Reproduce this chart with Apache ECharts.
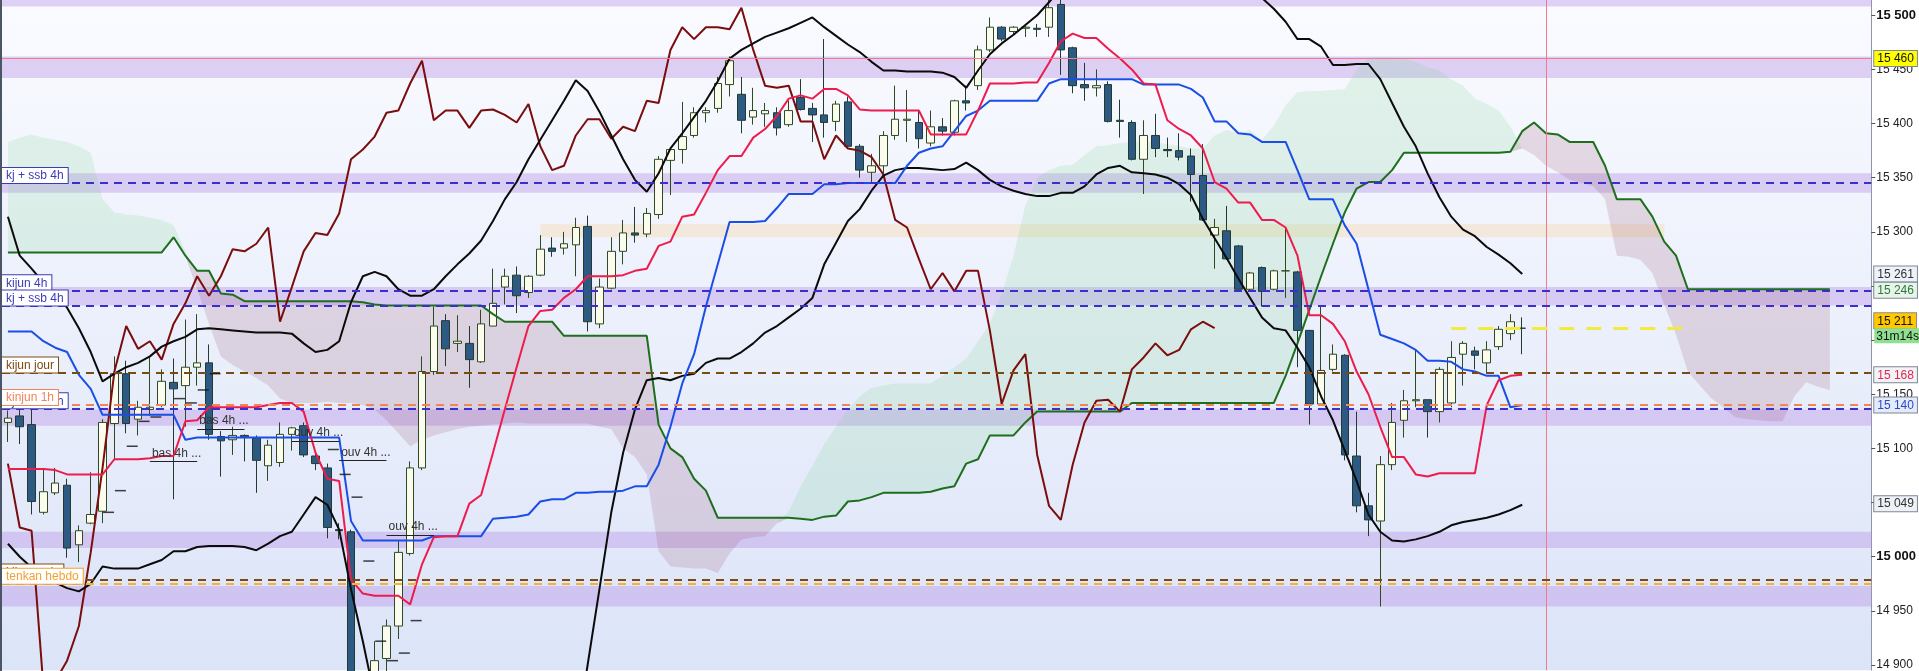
<!DOCTYPE html>
<html><head><meta charset="utf-8">
<script src="https://cdn.jsdelivr.net/npm/echarts@6/dist/echarts.min.js"></script>
<style>html,body{margin:0;padding:0;background:#fff;}#c{width:1919px;height:671px;}</style>
</head><body><div id="c"></div>
<script>
// ---- DATA ----
// candles: [open, close, low, high]
const candles = [
[15124,15128,15106,15135],[15130,15120,15104,15136],[15122,15051,15039,15136],[15041,15060,15039,15082],[15059,15068,15057,15082],
[15066,15008,14999,15072],[15011,15024,14995,15029],[15031,15039,15030,15078],[15042,15124,15031,15127],[15123,15169,15090,15185],
[15169,15123,15114,15181],[15127,15138,15112,15144],[15136,15138,15130,15185],[15140,15162,15138,15173],[15161,15155,15053,15183],
[15158,15175,15120,15219],[15175,15179,15158,15224],[15179,15113,15108,15196],[15111,15107,15074,15116],[15108,15112,15094,15120],
[15112,15110,15088,15113],[15110,15089,15059,15112],[15084,15103,15070,15108],[15087,15113,15083,15124],[15113,15119,15098,15120],
[15121,15094,15092,15124],[15093,15086,15080,15096],[15082,15027,15017,15086],[15025,15024,15016,15031],[15023,14880,14860,15025],
[14875,14885,14860,14893],[14890,14904,14880,14922],[14906,14936,14885,14942],[14936,15004,14924,15015],[15003,15082,15001,15088],
[15082,15171,15080,15185],[15171,15213,15168,15231],[15218,15192,15176,15224],[15197,15199,15189,15223],[15197,15182,15156,15213],
[15180,15215,15179,15228],[15213,15234,15213,15266],[15249,15259,15233,15266],[15260,15241,15225,15268],[15244,15259,15239,15260],
[15260,15284,15259,15297],[15285,15282,15277,15295],[15285,15289,15279,15300],[15288,15304,15259,15313],[15305,15217,15208,15315],
[15215,15249,15211,15257],[15248,15282,15247,15295],[15282,15299,15270,15311],[15299,15297,15290,15323],[15298,15317,15295,15322],
[15316,15367,15312,15370],[15366,15376,15334,15377],[15376,15388,15363,15420],[15389,15410,15387,15415],[15410,15412,15401,15415],
[15414,15437,15410,15443],[15436,15458,15425,15462],[15427,15403,15391,15443],[15406,15412,15399,15433],[15409,15412,15397,15419],
[15410,15396,15389,15415],[15399,15412,15397,15421],[15424,15413,15412,15441],[15414,15408,15383,15419],[15408,15401,15387,15478],
[15402,15418,15393,15421],[15420,15379,15377,15425],[15379,15357,15350,15381],[15355,15361,15346,15372],[15361,15389,15354,15393],
[15389,15404,15385,15435],[15403,15404,15383,15431],[15401,15386,15377,15412],[15382,15397,15379,15412],[15397,15393,15389,15405],
[15392,15421,15389,15422],[15421,15419,15412,15435],[15435,15468,15431,15472],[15468,15489,15466,15498],[15489,15478,15476,15490],
[15485,15489,15482,15490],[15488,15489,15480,15490],[15488,15487,15480,15492],[15489,15507,15480,15516],[15510,15468,15445,15520],
[15470,15435,15428,15471],[15436,15433,15421,15456],[15433,15435,15425,15450],[15436,15402,15401,15439],[15403,15402,15387,15422],
[15401,15367,15366,15403],[15367,15389,15335,15403],[15389,15377,15369,15409],[15376,15375,15369,15387],[15375,15369,15366,15391],
[15370,15353,15328,15377],[15352,15311,15310,15381],[15297,15304,15266,15312],[15301,15275,15274,15324],[15287,15247,15245,15288],
[15247,15262,15246,15263],[15267,15245,15231,15268],[15247,15264,15246,15265],[15264,15264,15239,15304],[15263,15209,15175,15264],
[15209,15141,15122,15209],[15141,15172,15140,15231],[15173,15187,15171,15196],[15186,15094,15089,15187],[15093,15047,15041,15134],
[15047,15034,15019,15059],[15033,15085,14954,15093],[15085,15124,15080,15142],[15126,15144,15110,15154],[15144,15145,15138,15191],
[15145,15134,15110,15145],[15134,15173,15124,15175],[15142,15184,15138,15199],[15187,15197,15158,15199],[15190,15186,15173,15194],
[15179,15191,15169,15199],[15194,15210,15191,15213],[15206,15217,15200,15224],[15211,15211,15187,15221]
];
const tenkan = [15081,15081,15081,15081,15080,15076,15076,15076,15076,15090,
15090,15090,15091,15093,15093,15125,15126,15138,15138,15138,
15138,15138,15140,15142,15142,15134,15096,15072,15070,14979,
14966,14964,14964,14964,14956,14993,15018,15019,15019,15049,
15057,15096,15136,15175,15213,15227,15228,15239,15247,15259,
15259,15259,15260,15264,15266,15287,15291,15314,15316,15336,
15357,15370,15370,15387,15395,15407,15423,15426,15423,15432,
15432,15426,15413,15412,15412,15412,15412,15412,15390,15390,
15390,15390,15412,15437,15437,15437,15438,15438,15456,15476,
15483,15479,15479,15469,15460,15450,15437,15436,15403,15395,
15389,15377,15346,15340,15327,15327,15311,15311,15304,15278,
15223,15223,15215,15199,15171,15150,15120,15092,15092,15076,
15074,15077,15077,15077,15077,15140,15163,15167,15168];
const kijun = [15208,15208,15208,15199,15193,15189,15168,15155,15131,15131,
15131,15131,15131,15131,15131,15108,15110,15110,15110,15110,
15110,15110,15110,15110,15110,15110,15110,15110,15110,15033,
15015,15015,15015,15015,15015,15015,15019,15019,15019,15019,
15019,15035,15036,15037,15039,15051,15053,15053,15059,15059,
15060,15060,15061,15065,15065,15085,15120,15160,15187,15231,
15270,15309,15309,15309,15310,15322,15335,15335,15335,15344,
15344,15345,15345,15345,15345,15345,15361,15373,15377,15379,
15393,15407,15412,15421,15421,15421,15421,15421,15437,15441,
15441,15441,15441,15441,15441,15441,15436,15436,15436,15436,
15432,15424,15402,15402,15391,15390,15383,15383,15383,15357,
15330,15330,15330,15306,15289,15247,15205,15201,15197,15191,
15181,15181,15180,15173,15171,15167,15167,15138,15140];
const chikou = [15086,15027,15024,14880,14885,14904,14936,15004,15082,15171,
15213,15192,15199,15182,15215,15234,15259,15241,15259,15284,
15282,15289,15304,15217,15249,15282,15299,15297,15317,15367,
15376,15388,15410,15412,15437,15458,15403,15412,15412,15396,
15412,15413,15408,15401,15418,15379,15357,15361,15389,15404,
15404,15386,15397,15393,15421,15419,15468,15489,15478,15489,
15489,15487,15507,15468,15435,15433,15435,15402,15402,15367,
15389,15377,15375,15369,15353,15311,15304,15275,15247,15262,
15245,15264,15264,15209,15141,15172,15187,15094,15047,15034,
15085,15124,15144,15145,15134,15173,15184,15197,15186,15191,
15210,15217,15211];
const ssb = [15281,15281,15281,15281,15281,15281,15281,15281,15281,15281,
15281,15281,15281,15281,15295,15278,15264,15264,15243,15242,
15236,15236,15236,15236,15236,15236,15236,15236,15236,15236,
15235,15233,15232,15232,15232,15232,15232,15232,15232,15232,
15232,15224,15217,15217,15217,15217,15217,15204,15204,15204,
15204,15204,15204,15204,15204,15122,15100,15092,15072,15061,
15036,15036,15036,15036,15036,15036,15036,15035,15034,15037,
15038,15051,15052,15055,15059,15059,15059,15059,15060,15063,
15065,15086,15090,15112,15112,15112,15124,15134,15134,15134,
15134,15134,15134,15134,15134,15142,15142,15142,15142,15142,
15142,15142,15142,15142,15142,15142,15142,15142,15167,15197,
15228,15259,15289,15318,15340,15346,15346,15357,15373,15373,
15373,15373,15373,15373,15373,15373,15373,15374,15393,15401,
15391,15390,15383,15383,15383,15361,15330,15330,15330,15314,
15291,15278,15247,15247,15247,15247,15247,15247,15247,15247,
15247,15247,15247,15247,15247];
const ssa = [15383,15387,15390,15387,15385,15383,15379,15373,15330,15318,
15316,15315,15313,15311,15306,15282,15247,15215,15185,15177,
15171,15165,15158,15146,15142,15142,15142,15143,15142,15142,
15140,15136,15126,15114,15102,15108,15112,15115,15118,15120,
15121,15122,15123,15124,15123,15123,15123,15123,15123,15123,
15120,15118,15100,15092,15076,15005,14991,14990,14989,14989,
14985,15003,15016,15018,15019,15031,15042,15065,15084,15104,
15120,15136,15148,15156,15158,15160,15160,15160,15160,15167,
15175,15183,15199,15215,15243,15278,15324,15350,15357,15361,
15362,15371,15379,15380,15382,15383,15384,15383,15381,15379,
15377,15377,15389,15394,15391,15394,15385,15398,15417,15429,
15430,15430,15431,15432,15450,15460,15461,15461,15460,15457,
15452,15449,15441,15435,15423,15418,15412,15397,15377,15371,
15361,15355,15348,15345,15342,15330,15278,15277,15274,15262,
15233,15205,15171,15158,15146,15138,15129,15127,15126,15125,
15125,15148,15161,15157,15154];
const bbUpper = [15314,15278,15266,15253,15241,15230,15211,15189,15162,15169,
15175,15179,15185,15194,15199,15203,15210,15211,15210,15209,
15208,15207,15207,15207,15206,15197,15189,15191,15199,15235,
15259,15263,15259,15247,15241,15241,15247,15259,15270,15280,
15292,15310,15330,15346,15367,15385,15403,15421,15440,15430,
15411,15389,15367,15348,15337,15354,15377,15391,15406,15421,
15439,15460,15468,15474,15480,15484,15488,15493,15498,15489,
15481,15473,15466,15457,15449,15449,15448,15448,15448,15447,
15443,15433,15449,15464,15474,15482,15491,15500,15512,15525,
15535,15545,15550,15555,15558,15560,15560,15558,15555,15550,
15545,15540,15535,15530,15525,15520,15516,15506,15494,15478,
15478,15471,15454,15454,15455,15455,15441,15419,15397,15379,
15354,15332,15314,15302,15296,15286,15279,15271,15261];
const bbLower = [15012,15000,14990,14982,14976,14971,14968,14975,14991,14989,
14989,14989,14993,14997,15005,15005,15009,15010,15010,15010,
15009,15006,15012,15019,15023,15039,15055,15048,15025,14970,
14922,14870,14840,14810,14790,14780,14775,14770,14765,14760,
14755,14750,14748,14745,14745,14750,14760,14780,14830,14900,
14970,15041,15096,15136,15163,15165,15163,15167,15169,15179,
15183,15183,15189,15197,15207,15213,15221,15229,15239,15270,
15290,15310,15321,15338,15352,15357,15359,15359,15358,15357,
15358,15364,15357,15348,15342,15338,15335,15333,15333,15336,
15336,15342,15353,15359,15361,15355,15354,15353,15350,15344,
15334,15312,15294,15276,15257,15239,15221,15211,15209,15193,
15175,15148,15126,15098,15070,15039,15023,15015,15014,15016,
15019,15023,15029,15032,15034,15036,15039,15043,15048];
// small 4h open markers: [index, price]
const ticks4h = [[8,15041],[9,15061],[10,15102],[11,15125],[12,15129],[14,15146],[15,15142],[16,15154],[17,15169],
[27,15099],[28,15076],[29,15055],[30,14996],[31,14922],[32,14904],[33,14911],[34,14941]];
// annotations: [text, startIndex, endIndex, price]
const notes = [['bas 4h ...',12,16,15088],['bas 4h ...',16,20,15118],['ouv 4h ...',24,28,15107],['ouv 4h ...',28,32,15089],['ouv 4h ...',32,36,15020]];
// horizontal levels
const levelValues = [15345,15246,15232,15170,15137,15140,14979,14975];
const levelNames  = ['kj + ssb 4h','kijun 4h','kj + ssb 4h','kijun jour','kj + ssb 4h','kinjun 1h','kijun mois','tenkan hebdo'];
const levelKinds  = ['b','b','b','br','b','o','br','y'];
const bands = [[15508,15530],[15442,15462],[15336,15354],[15232,15249],[15121,15136],[15008,15023],[14954,14973]];
const peachBand = [45,140,15295,15307];
const redLineLevel = 15460;
const lastPrice = 15211, timerText = '31m14s';
const priceTags = [15460,15261,15246,15168,15140,15049];
const nowIndex = 130;
const projRange = [122,142];

// ---- CHART ----
const N = 158;
const cats = Array.from({length:N},(_,i)=>String(i));
const fmt = v => { const s = String(Math.round(v)); return s.slice(0,s.length-3)+' '+s.slice(-3); };
const cloudBase = ssa.map((a,i)=>Math.min(a,ssb[i]));
const cloudUp = ssa.map((a,i)=>Math.max(a-ssb[i],0));
const cloudDn = ssa.map((a,i)=>Math.max(ssb[i]-a,0));
const FONT = 'Liberation Sans, Arial, sans-serif';
const kindStyle = {
  b:{line:'#3a2fcc', text:'#3b3bb5'},
  br:{line:'#7a4a12', text:'#7a4a12'},
  o:{line:'#f0845a', text:'#f0845a'},
  y:{line:'#f5b035', text:'#f0a030'}
};
const levelData = levelValues.map((v,i)=>{
  const k = kindStyle[levelKinds[i]];
  return {yAxis:v, lineStyle:{color:k.line, type:[8,6], width:2},
    label:{show:true, position:'insideStartTop', distance:0, formatter:levelNames[i], color:k.text,
      fontFamily:FONT, fontSize:12, backgroundColor:'#fff', borderColor:k.text, borderWidth:1, padding:[2,4,1,4]}};
});
const tagStyle = {
  15460:{bg:'#ffff00', c:'#111'}, 15261:{bg:'#edf1f8', c:'#333'}, 15246:{bg:'#e8f3ea', c:'#2b7a3b'},
  15168:{bg:'#f2f2f7', c:'#e0284a'}, 15140:{bg:'#e3eafa', c:'#2a48c8'}, 15049:{bg:'#eef1f6', c:'#333'}
};
const tagBase = {fontFamily:FONT, fontSize:12, padding:[2,3,1,3], borderColor:'#7d8797', borderWidth:1};
const tagRich = {};
priceTags.forEach((v,i)=>{ tagRich['t'+i] = Object.assign({color:tagStyle[v].c, backgroundColor:tagStyle[v].bg}, tagBase); });
tagRich.p = Object.assign({}, tagBase, {color:'#111', backgroundColor:'#ffc800', borderColor:'#888'});
tagRich.q = {fontFamily:FONT, fontSize:12, padding:[2,2,1,2], color:'#111', backgroundColor:'#8fe08f'};
const tagData = priceTags.map((v,i)=>({yAxis:v, lineStyle:{width:0, color:'rgba(0,0,0,0)'},
  label:{show:true, position:'end', distance:3, opacity:1, formatter:'{t'+i+'|'+fmt(v)+'}', rich:tagRich}}));
tagData.push({yAxis:lastPrice, lineStyle:{width:0, color:'rgba(0,0,0,0)'},
  label:{show:true, position:'end', distance:3, opacity:1, formatter:'{p|'+fmt(lastPrice)+'}\n{q|'+timerText+'}', rich:tagRich}});

function line(name, data, color, z){
  return {type:'line', name, data, symbol:'none', showSymbol:false, lineStyle:{color, width:2}, z, silent:true, animation:false, connectNulls:false};
}
const chart = echarts.init(document.getElementById('c'));
chart.setOption({
  animation:false,
  backgroundColor:'#fff',
  grid:{left:2, right:47, top:0, bottom:0, show:true, borderWidth:0,
    backgroundColor:new echarts.graphic.LinearGradient(0,0,0,1,[{offset:0,color:'#fafbff'},{offset:1,color:'#dce4f8'}])},
  xAxis:{type:'category', data:cats, boundaryGap:true, show:false},
  yAxis:{type:'value', position:'right', min:14895.2, max:15514.1, minInterval:50, maxInterval:50,
    axisLine:{show:true, lineStyle:{color:'#8c96a8'}}, axisTick:{show:true, length:4, lineStyle:{color:'#555'}},
    splitLine:{show:false},
    axisLabel:{margin:5, color:'#222', fontFamily:FONT, fontSize:12, showMinLabel:false, showMaxLabel:false,
      formatter:v=>{ if (Math.abs(v%50)>0.01) return ''; return (v%500===0)?'{b|'+fmt(v)+'}':fmt(v); },
      rich:{b:{fontWeight:'bold', fontSize:13, color:'#111', fontFamily:FONT}}}},
  graphic:[{type:'rect', left:0, top:0, shape:{width:2, height:671}, style:{fill:'#4a5566'}, z:100}],
  series:[
    {type:'line', data:[], z:1, silent:true,
      markArea:{silent:true, itemStyle:{color:'rgba(186,150,232,0.42)'},
        data:bands.map(b=>[{yAxis:b[0]},{yAxis:b[1]}]).concat([[{xAxis:String(peachBand[0]),yAxis:peachBand[2],itemStyle:{color:'rgba(246,222,186,0.5)'}},{xAxis:String(peachBand[1]),yAxis:peachBand[3]}]])}},
    {type:'line', data:cloudBase, stack:'g', symbol:'none', lineStyle:{opacity:0}, z:2, silent:true},
    {type:'line', data:cloudUp, stack:'g', symbol:'none', lineStyle:{opacity:0}, areaStyle:{color:'rgba(110,205,130,0.24)'}, z:2, silent:true},
    {type:'line', data:cloudBase, stack:'r', symbol:'none', lineStyle:{opacity:0}, z:2, silent:true},
    {type:'line', data:cloudDn, stack:'r', symbol:'none', lineStyle:{opacity:0}, areaStyle:{color:'rgba(150,80,105,0.26)'}, z:2, silent:true},
    {type:'candlestick', data:candles, barWidth:8, z:3, silent:true,
      itemStyle:{color:'#fbfbee', color0:'#2d5a82', borderColor:'#2e4a20', borderColor0:'#223a30', borderWidth:1}},
    line('ssb', ssb, '#1e6e1e', 4),
    line('chikou', chikou, '#7b0d0d', 4),
    line('bbUpper', bbUpper, '#0b0b0b', 4),
    line('bbLower', bbLower, '#0b0b0b', 4),
    line('kijun', kijun, '#1a4ee6', 4),
    line('tenkan', tenkan, '#ee1c4c', 4),
    {type:'scatter', data:ticks4h, symbol:'rect', symbolSize:[11,1.5], symbolOffset:[6,0], itemStyle:{color:'#111'}, z:5, silent:true},
    {type:'line', data:[], z:6, silent:true, clip:false,
      markLine:{silent:true, symbol:['none','none'], animation:false,
        data:[
          {yAxis:redLineLevel, lineStyle:{color:'#f07a8a', type:'solid', width:1}, label:{show:false}},
          {xAxis:String(nowIndex), lineStyle:{color:'#f07a8a', type:'solid', width:1}, label:{show:false}},
          [{coord:[String(projRange[0]),lastPrice], lineStyle:{color:'#f2ea3c', type:[15,12], width:3}, label:{show:false}},{coord:[String(projRange[1]),lastPrice]}]
        ].concat(levelData).concat(notes.map(n=>[
          {coord:[String(n[1]),n[3]], name:n[0], lineStyle:{color:'#222', type:'solid', width:1},
            label:{show:true, position:'insideStartTop', distance:2, formatter:n[0], color:'#333', fontFamily:FONT, fontSize:12}},
          {coord:[String(n[2]),n[3]]}]))
      }},
    {type:'line', data:[], z:7, silent:true, clip:false,
      markLine:{silent:true, symbol:['none','none'], animation:false, data:tagData}}
  ]
});
</script></body></html>
